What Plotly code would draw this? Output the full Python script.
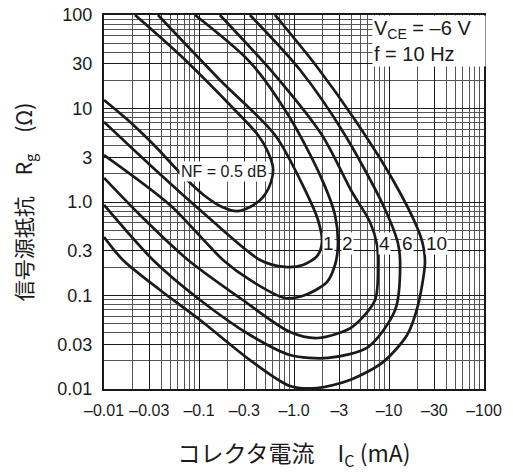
import math
import plotly.graph_objects as go

# NF contours: collector current |Ic| (mA) vs source resistance Rg (ohm)
ic_05 = [0.0212, 0.063, 0.212, 0.418, 0.532, 0.601, 0.573, 0.472, 0.344, 0.251, 0.175, 0.1156, 0.0679, 0.0344, 0.0188, 0.01]
rg_05 = [100, 37.3, 10.9, 5.21, 3.43, 2.31, 1.64, 1.13, 0.885, 0.80, 0.885, 1.16, 1.90, 3.97, 7.17, 12.3]

ic_1 = [0.037, 0.166, 0.631, 1.31, 1.79, 1.97, 1.75, 1.24, 0.803, 0.439, 0.1026, 0.0305, 0.01]
rg_1 = [100, 20.2, 5.21, 1.34, 0.642, 0.373, 0.264, 0.212, 0.202, 0.240, 0.821, 2.49, 7.17]

ic_2 = [0.0908, 0.344, 0.908, 1.88, 2.70, 2.90, 2.70, 2.22, 1.31, 0.803, 0.344, 0.179, 0.0495, 0.01]
rg_2 = [100, 31.4, 7.91, 1.94, 0.726, 0.347, 0.212, 0.139, 0.101, 0.094, 0.1466, 0.240, 0.929, 3.18]

ic_4 = [0.166, 0.631, 1.97, 4.08, 6.31, 7.48, 7.66, 7.13, 4.08, 1.79, 0.908, 0.270, 0.0766, 0.0239, 0.01]
rg_4 = [100, 22.8, 5.21, 1.28, 0.611, 0.347, 0.212, 0.0895, 0.046, 0.0351, 0.0407, 0.094, 0.240, 0.726, 1.81]

ic_6 = [0.344, 1.16, 3.44, 8.65, 12.4, 13.1, 11.6, 6.01, 2.28, 0.908, 0.344, 0.1026, 0.0328, 0.01]
rg_6 = [100, 25.8, 5.21, 0.929, 0.364, 0.212, 0.070, 0.0281, 0.0215, 0.0231, 0.0378, 0.0895, 0.240, 0.929]

ic_10 = [0.631, 1.75, 4.39, 11.0, 19.7, 22.8, 23.9, 20.2, 15.5, 8.65, 3.88, 1.75, 0.908, 0.344, 0.1026, 0.0388, 0.0158, 0.01]
rg_10 = [100, 27.8, 7.53, 1.72, 0.541, 0.347, 0.223, 0.079, 0.0378, 0.0194, 0.01247, 0.01025, 0.01076, 0.0204, 0.0547, 0.1146, 0.240, 0.423]

# curve labels (text, Ic, Rg)
label_text = ["1", "2", "4", "6", "10"]
label_ic = [2.33, 3.70, 8.86, 15.5, 32.0]
label_rg = [0.36, 0.36, 0.36, 0.36, 0.36]
nf05_label_ic = 0.183
nf05_label_rg = 2.1

x_ticks = [0.01, 0.03, 0.1, 0.3, 1, 3, 10, 30, 100]
x_ticktext = ["–0.01", "–0.03", "–0.1", "–0.3", "–1.0", "–3", "–10", "–30", "–100"]
y_ticks = [0.01, 0.03, 0.1, 0.3, 1, 3, 10, 30, 100]
y_ticktext = ["0.01", "0.03", "0.1", "0.3", "1.0", "3", "10", "30", "100"]

minor_vals = [m * 10.0 ** e for e in range(-2, 2) for m in (2, 4, 5, 6, 7, 8, 9)]

ink = "#1a1a1a"
fig = go.Figure()

for ic, rg in [(ic_05, rg_05), (ic_1, rg_1), (ic_2, rg_2), (ic_4, rg_4), (ic_6, rg_6), (ic_10, rg_10)]:
    fig.add_trace(go.Scatter(
        x=ic, y=rg, mode="lines",
        line=dict(color=ink, width=2.7, shape="spline", smoothing=0.8),
        showlegend=False, hoverinfo="skip"
    ))

# annotations on log axes take log10 positions
label_font = dict(family="Liberation Sans, Arial, sans-serif", size=19, color=ink)
for t, xv, yv in zip(label_text, label_ic, label_rg):
    fig.add_annotation(x=math.log10(xv), y=math.log10(yv), xref="x", yref="y", text=t,
                       showarrow=False, bgcolor="white", borderpad=0, font=label_font)

fig.add_annotation(x=math.log10(nf05_label_ic), y=math.log10(nf05_label_rg), xref="x", yref="y",
                   text="NF = 0.5 dB", showarrow=False, bgcolor="white", borderpad=1,
                   font=dict(family="Liberation Sans Narrow, Liberation Sans, sans-serif", size=16, color=ink))

# condition box in the top-right corner
fig.add_annotation(x=0.705, y=1.0, xref="paper", yref="paper", xanchor="left", yanchor="top",
                   text="V<sub>CE</sub> = –6 V<br>f = 10 Hz", align="left", showarrow=False,
                   width=110, bgcolor="white", borderpad=1,
                   font=dict(family="Liberation Sans, Arial, sans-serif", size=20, color=ink))

axis_common = dict(
    type="log", showline=True, mirror=True, linewidth=2.2, linecolor=ink,
    showgrid=True, gridcolor=ink, gridwidth=1, zeroline=False, automargin=False,
    ticks="outside", ticklen=6, tickcolor="rgba(0,0,0,0)", ticklabeloverflow="allow",
    minor=dict(tickvals=minor_vals, showgrid=True, gridcolor="#555555", gridwidth=1, ticks=""),
)

fig.update_xaxes(
    **axis_common, range=[-2, 2], tickvals=x_ticks, ticktext=x_ticktext,
    tickfont=dict(family="Liberation Sans, Arial, sans-serif", size=16, color=ink),
    title=dict(text="コレクタ電流　I<sub>C</sub> (mA)", standoff=28,
               font=dict(family="Noto Sans CJK JP, sans-serif", size=23, color=ink)),
)
fig.update_yaxes(
    **axis_common, range=[-2, 2], tickvals=y_ticks, ticktext=y_ticktext,
    tickfont=dict(family="Liberation Sans, Arial, sans-serif", size=18, color=ink),
    title=dict(text="信号源抵抗　R<sub>g</sub>　(Ω)", standoff=20,
               font=dict(family="Noto Sans CJK JP, sans-serif", size=21, color=ink)),
)

# the page body adds an 8 px offset, so the figure is drawn 8 px smaller
fig.update_layout(
    width=505, height=466,
    margin=dict(l=96, r=29, t=7, b=85),
    plot_bgcolor="white", paper_bgcolor="white",
    showlegend=False,
)

fig.write_html("out.html")
